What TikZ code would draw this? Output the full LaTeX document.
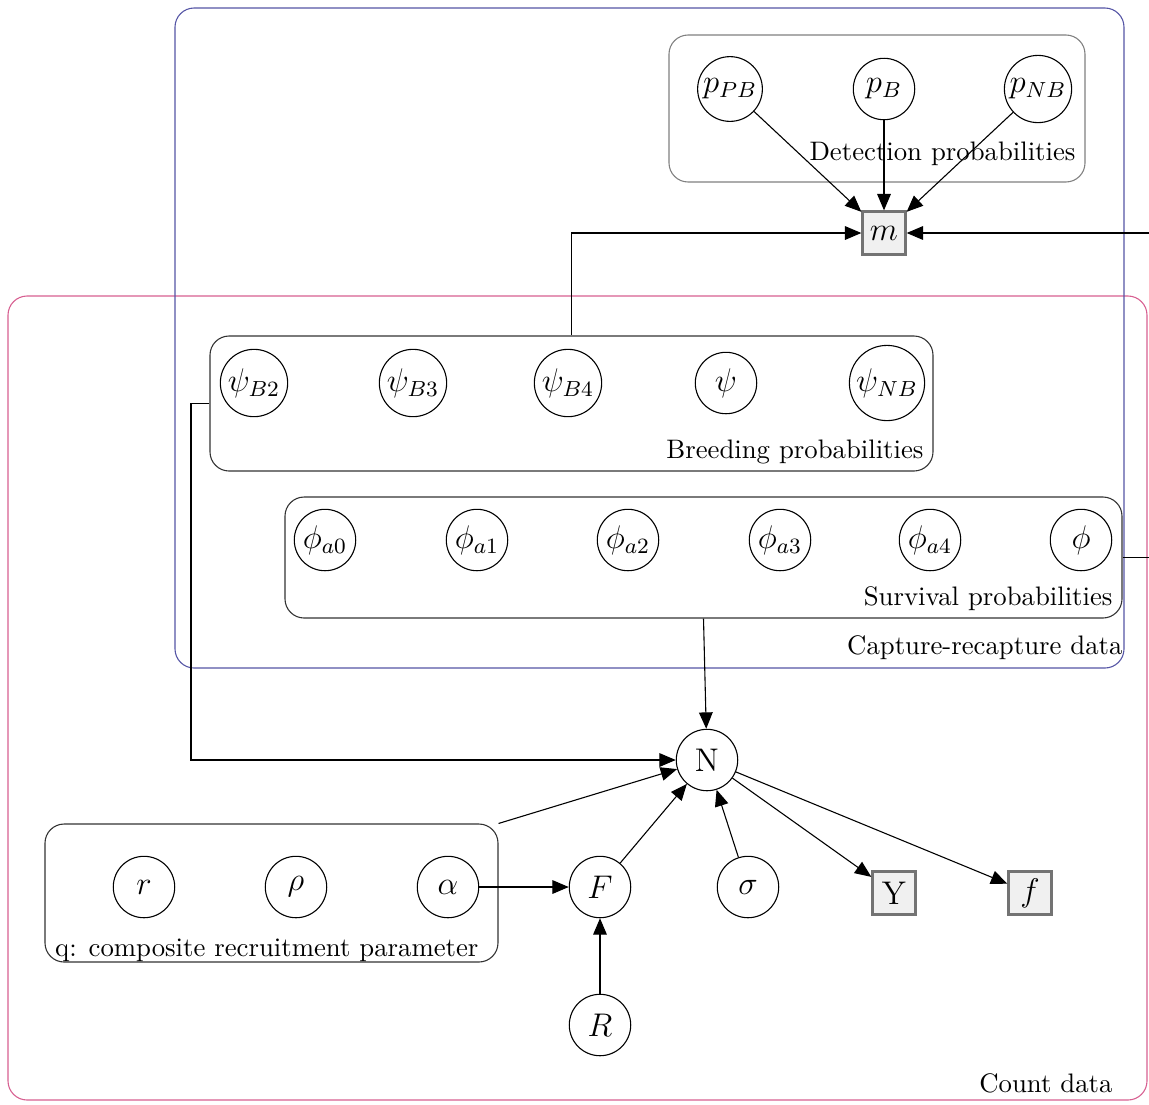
\documentclass[tikz,border=0pt]{standalone}
\usepackage{amsmath}
\usepackage{amssymb}
\usetikzlibrary{arrows.meta,fit}
\definecolor{crblue}{RGB}{85,85,165}
\definecolor{cdpink}{RGB}{215,95,145}
\begin{document}
\begin{tikzpicture}[x=0.3663pt,y=-0.3663pt]
	\tikzstyle{latent}=[circle,draw=black,fill=white,inner sep=1pt,minimum size=22.5pt,font=\large]
	\tikzstyle{obs}=[rectangle,draw=black!55,fill=black!6,line width=1.1pt,minimum size=15.5pt,inner sep=1pt,font=\large]
	\tikzstyle{plate}=[draw=black!80,rounded corners=7pt,inner sep=0pt]
	\tikzstyle{edge}=[-{Triangle[length=6pt,width=5pt]},draw=black]
	\tikzstyle{caption}=[anchor=south east,inner sep=0pt,font=\fontsize{9.8}{11}\selectfont]
	\useasboundingbox (0,0) rectangle (1149,1104);
	\clip (0,0) rectangle (1149,1104);
	\node [plate,draw=cdpink,fit={(8,296) (1147,1100)}] (count) {};
	\node [caption] at (1113,1094) {Count data};
	\node [plate,draw=crblue,fit={(175,8) (1124,668)}] (capture) {};
	\node [caption] at (1123,660) {Capture-recapture data};
	\node [plate,draw=black!50,fit={(669,35) (1085,182)}] (detect) {};
	\node [caption] at (1076,166) {Detection probabilities};
	\node [plate,fit={(210,336) (933,471)}] (breed) {};
	\node [caption] at (924,465) {Breeding probabilities};
	\node [plate,fit={(285,497) (1122,618)}] (surv) {};
	\node [caption] at (1113,611) {Survival probabilities};
	\node [plate,fit={(45,824) (498,962)}] (recruit) {};
	\node [caption] at (479,962) {q: composite recruitment parameter};
	\node [latent] (pPB) at (730,89) {$p_{PB}$};
	\node [latent] (pB) at (884,89) {$p_B$};
	\node [latent] (pNB) at (1038,89) {$p_{NB}$};
	\node [obs] (m) at (884,233) {$m$};
	\node [latent] (psiB2) at (254,383) {$\psi_{B2}$};
	\node [latent] (psiB3) at (413,383) {$\psi_{B3}$};
	\node [latent] (psiB4) at (568,383) {$\psi_{B4}$};
	\node [latent] (psi) at (726,383) {$\psi$};
	\node [latent] (psiNB) at (887,383) {$\psi_{NB}$};
	\node [latent] (phia0) at (325,540) {$\phi_{a0}$};
	\node [latent] (phia1) at (477,540) {$\phi_{a1}$};
	\node [latent] (phia2) at (628,540) {$\phi_{a2}$};
	\node [latent] (phia3) at (780,540) {$\phi_{a3}$};
	\node [latent] (phia4) at (930,540) {$\phi_{a4}$};
	\node [latent] (phi) at (1081,540) {$\phi$};
	\node [latent] (N) at (707,760) {N};
	\node [latent] (r) at (144,887) {$r$};
	\node [latent] (rho) at (296,887) {$\rho$};
	\node [latent] (alpha) at (448,887) {$\alpha$};
	\node [latent] (F) at (600,887) {$F$};
	\node [latent] (sigma) at (748,887) {$\sigma$};
	\node [latent] (R) at (600,1025) {$R$};
	\node [obs] (Y) at (894,893) {Y};
	\node [obs] (f) at (1030,893) {$f$};
	\coordinate (bendL) at (191,760);
	\coordinate (bendR) at (1200,233);
	\draw [edge] (pPB) -- (m);
	\draw [edge] (pB) -- (m);
	\draw [edge] (pNB) -- (m);
	\draw [edge] (breed.north) |- (m);
	\draw [edge] (surv.east) -| (bendR) -- (m);
	\draw [edge] (breed.west) -| (bendL) -- (N);
	\draw [edge] (surv.south) -- (N);
	\draw [edge] (recruit.north east) -- (N);
	\draw [edge] (alpha) -- (F);
	\draw [edge] (F) -- (N);
	\draw [edge] (sigma) -- (N);
	\draw [edge] (R) -- (F);
	\draw [edge] (N) -- (Y);
	\draw [edge] (N) -- (f);
\end{tikzpicture}
\end{document}
